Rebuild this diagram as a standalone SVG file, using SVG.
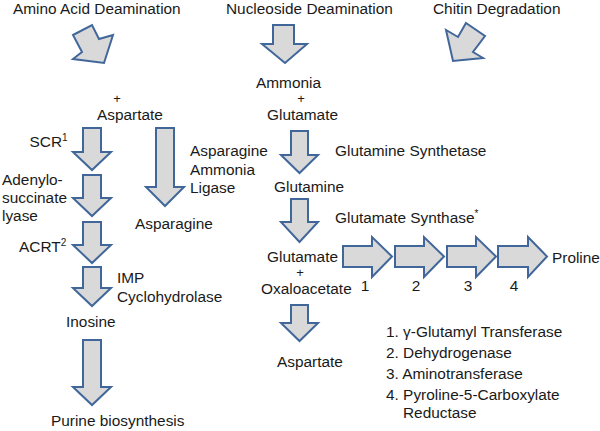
<svg xmlns="http://www.w3.org/2000/svg" width="600" height="431" viewBox="0 0 600 431">
<style>
.a{fill:#d9d9d9;stroke:#41679a;stroke-width:2;stroke-linejoin:miter}
text{font-family:"Liberation Sans",Arial,sans-serif;font-size:15.4px;fill:#1a1a1a}
.c{text-anchor:middle}
.p{font-size:13px}
.s{font-size:10px}
</style>
<rect width="600" height="431" fill="#ffffff"/>
<g id="titles">
<text x="13" y="13.5">Amino Acid Deamination</text>
<text x="226" y="13.5">Nucleoside Deamination</text>
<text x="433" y="13.5">Chitin Degradation</text>
</g>
<g id="connectors">
<polygon class="a" points="73,35 92,25 99,39 113,35 104,63 73,59 82,52"/>
<polygon class="a" points="273,25 294,25 294,44 307,44 285,63 262,44 273,44"/>
<polygon class="a" points="466,23 485,36 473,52 483,58 453,61 446,30 458,37"/>
<polygon class="a" points="83,128 101,128 101,152 111,152 92,170 73,152 83,152"/>
<polygon class="a" points="83,175 101,175 101,198 111,198 92,216 73,198 83,198"/>
<polygon class="a" points="83,222 101,222 101,245 111,245 92,263 73,245 83,245"/>
<polygon class="a" points="83,267 101,267 101,288 111,288 92,306 73,288 83,288"/>
<polygon class="a" points="83,340 101,340 101,387 111,387 92,405 73,387 83,387"/>
<polygon class="a" points="156,128 174,128 174,187 184,187 165,206 146,187 156,187"/>
<polygon class="a" points="291,131 308,131 308,155 318,155 299.5,173 281,155 291,155"/>
<polygon class="a" points="291,199 308,199 308,222 318,222 299.5,242 281,222 291,222"/>
<polygon class="a" points="291,305 308,305 308,323 318,323 299.5,341 281,323 291,323"/>
<polygon class="a" points="343,246 372,246 372,237 392,256.5 372,277 372,267 343,267"/>
<polygon class="a" points="395,246 424,246 424,237 444,256.5 424,277 424,267 395,267"/>
<polygon class="a" points="447,246 476,246 476,237 496,256.5 476,277 476,267 447,267"/>
<polygon class="a" points="498,246 528,246 528,237 547,256.5 528,277 528,267 498,267"/>
</g>
<g id="aspartate-top">
<text x="117" y="103" class="c p">+</text>
<text x="97" y="120">Aspartate</text>
</g>
<g id="ammonia-glutamate">
<text x="256" y="88">Ammonia</text>
<text x="301" y="103" class="c p">+</text>
<text x="267" y="120">Glutamate</text>
</g>
<g id="scr"><text x="29.5" y="147">SCR<tspan class="s" dy="-6">1</tspan></text></g>
<g id="adenylo">
<text x="2" y="185">Adenylo-</text>
<text x="2" y="203">succinate</text>
<text x="2" y="221">lyase</text>
</g>
<g id="acrt"><text x="19" y="252">ACRT<tspan class="s" dy="-6">2</tspan></text></g>
<g id="imp">
<text x="117" y="283">IMP</text>
<text x="117" y="302">Cyclohydrolase</text>
</g>
<g id="inosine"><text x="66" y="327">Inosine</text></g>
<g id="purine"><text x="51" y="426">Purine biosynthesis</text></g>
<g id="ligase">
<text x="190" y="156">Asparagine</text>
<text x="190" y="175">Ammonia</text>
<text x="190" y="193">Ligase</text>
</g>
<g id="asparagine"><text x="135" y="229">Asparagine</text></g>
<g id="gs1"><text x="335" y="156">Glutamine Synthetase</text></g>
<g id="glutamine"><text x="274" y="192">Glutamine</text></g>
<g id="gs2"><text x="335" y="223">Glutamate Synthase<tspan class="s" dy="-6">*</tspan></text></g>
<g id="glu-oxa">
<text x="267" y="262">Glutamate</text>
<text x="300" y="277" class="c p">+</text>
<text x="261" y="294">Oxaloacetate</text>
</g>
<g id="aspartate-bottom"><text x="277" y="367">Aspartate</text></g>
<g id="steps">
<text x="365" y="291" class="c">1</text>
<text x="416" y="291" class="c">2</text>
<text x="468" y="291" class="c">3</text>
<text x="514" y="291" class="c">4</text>
</g>
<g id="proline"><text x="552" y="263">Proline</text></g>
<g id="legend">
<text x="386" y="337">1. γ-Glutamyl Transferase</text>
<text x="386" y="358">2. Dehydrogenase</text>
<text x="386" y="379">3. Aminotransferase</text>
<text x="386" y="400">4. Pyroline-5-Carboxylate</text>
<text x="403" y="418">Reductase</text>
</g>
</svg>
